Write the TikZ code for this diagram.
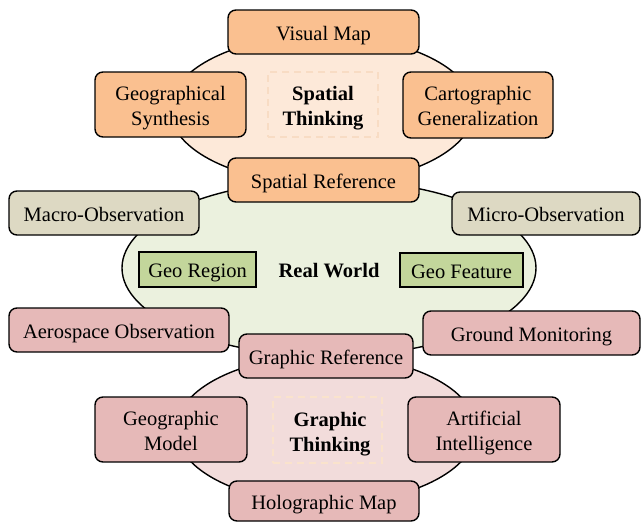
\documentclass[tikz,border=0pt]{standalone}
\usepackage{fontspec}
\setmainfont{Liberation Serif}
\usetikzlibrary{shapes.geometric}
\definecolor{orangebox}{HTML}{FAC090}
\definecolor{orangebg}{HTML}{FDE9D9}
\definecolor{tanbox}{HTML}{DDD9C3}
\definecolor{greenbg}{HTML}{EBF1DE}
\definecolor{greenbox}{HTML}{C3D69B}
\definecolor{pinkbox}{HTML}{E6B9B8}
\definecolor{pinkbg}{HTML}{F2DCDB}
\definecolor{dashtop}{HTML}{F8DCC4}
\definecolor{dashbot}{HTML}{FAE3CC}
\begin{document}
\begin{tikzpicture}[x=1pt,y=-1pt,
  txt/.style={font=\fontsize{20.5}{25}\selectfont, align=center, text=black, text height=16pt, text depth=0pt},
  two/.style={text height=41pt, text depth=0pt},
  box/.style={txt, draw=black, line width=1.4pt, rounded corners=8pt, inner sep=0pt},
  sqbox/.style={txt, draw=black, line width=1.4pt, inner sep=0pt},
  blob/.style={ellipse, draw=black, line width=1.4pt, inner sep=0pt},
  dashframe/.style={line width=1.6pt, dash pattern=on 7pt off 5pt, inner sep=0pt},
  title/.style={txt, font=\fontsize{20.5}{25}\selectfont\bfseries}]
\useasboundingbox (0,0) rectangle (641,522);
% background ellipses
\node[blob, fill=orangebg, minimum width=304pt, minimum height=148pt] (topell) at (322,109.5) {};
\node[blob, fill=greenbg, minimum width=414pt, minimum height=176pt] (midell) at (329,268) {};
\node[blob, fill=pinkbg, minimum width=300pt, minimum height=148pt] (botell) at (326,429.5) {};
% dashed frames and titles
\node[dashframe, draw=dashtop, minimum width=110pt, minimum height=65pt] (stframe) at (323,104.5) {};
\node[title, two] (st) at (323,105) {Spatial\\Thinking};
\node[dashframe, draw=dashbot, minimum width=109pt, minimum height=66pt] (gtframe) at (327.5,430) {};
\node[title, two] (gt) at (330,430.5) {Graphic\\Thinking};
\node[title] (rw) at (329,269) {Real World};
% top group
\node[box, fill=orangebox, minimum width=191pt, minimum height=44pt] (vm) at (323.5,32) {Visual Map};
\node[box, two, fill=orangebox, minimum width=151pt, minimum height=65pt] (gs) at (170.5,104.5) {Geographical\\Synthesis};
\node[box, two, fill=orangebox, minimum width=150pt, minimum height=66pt] (cg) at (478,105) {Cartographic\\Generalization};
\node[box, fill=orangebox, minimum width=191pt, minimum height=44pt] (sr) at (323.5,180) {Spatial Reference};
% middle group
\node[box, fill=tanbox, minimum width=190pt, minimum height=44pt] (macro) at (104,213) {Macro-Observation};
\node[box, fill=tanbox, minimum width=188pt, minimum height=43pt] (micro) at (546,213.5) {Micro-Observation};
\node[sqbox, fill=greenbox, minimum width=117pt, minimum height=35pt] (gr) at (197.5,269.5) {Geo Region};
\node[sqbox, fill=greenbox, minimum width=123pt, minimum height=34pt] (gf) at (461.5,270) {Geo Feature};
\node[box, fill=pinkbox, minimum width=220pt, minimum height=44pt] (aero) at (119,330) {Aerospace Observation};
\node[box, fill=pinkbox, minimum width=217pt, minimum height=44pt] (ground) at (531.5,333) {Ground Monitoring};
\node[box, fill=pinkbox, minimum width=174pt, minimum height=44pt] (gref) at (326,356) {Graphic Reference};
% bottom group
\node[box, two, fill=pinkbox, minimum width=152pt, minimum height=65pt] (gm) at (171,429.5) {Geographic\\Model};
\node[box, two, fill=pinkbox, minimum width=152pt, minimum height=65pt] (ai) at (484,429.5) {Artificial\\Intelligence};
\node[box, fill=pinkbox, minimum width=190pt, minimum height=40pt] (hm) at (324,501) {Holographic Map};
\end{tikzpicture}
\end{document}
